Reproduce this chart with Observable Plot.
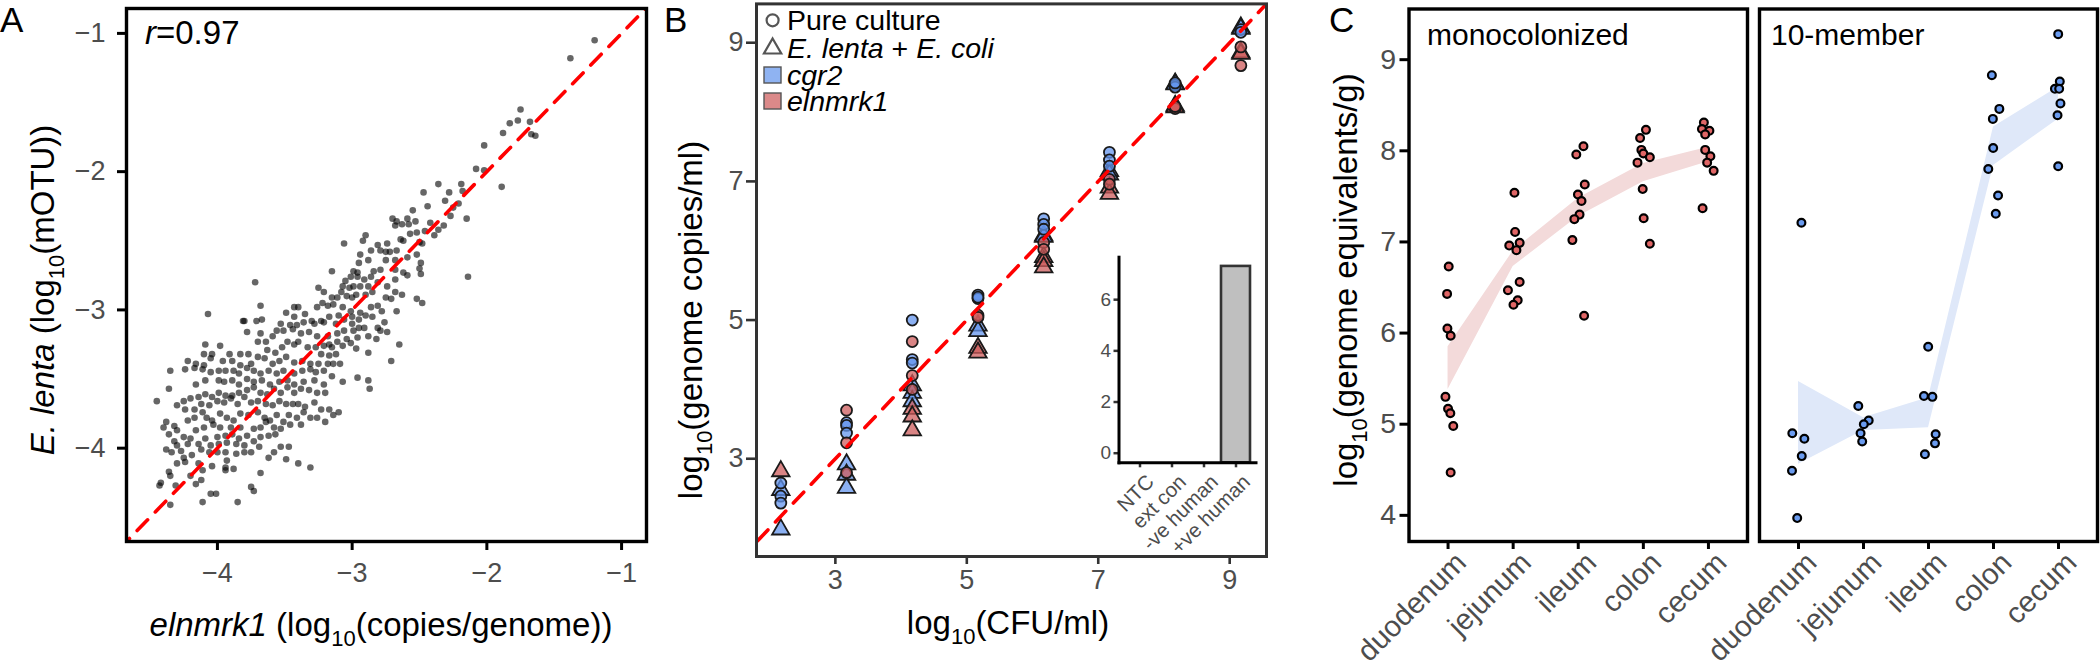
<!DOCTYPE html>
<html><head><meta charset="utf-8">
<script src="https://cdn.jsdelivr.net/npm/d3@7"></script>
<script src="https://cdn.jsdelivr.net/npm/@observablehq/plot@0.6"></script>
<style>
html,body{margin:0;padding:0;background:#fff;overflow:hidden;}
#root{position:relative;width:2100px;height:664px;overflow:hidden;font-family:"Liberation Sans",Arial,sans-serif;}
#root svg{position:absolute;max-width:none;background:transparent;overflow:visible;}
</style></head><body><div id="root"></div>
<script>
// ---------------- Panel A data ----------------
const tickA = [-4, -3, -2, -1];
const refLineA = [-5, 0];
const scatterA = [
[-3.80,-3.08],[-3.71,-3.08],[-3.53,-3.10],[-3.46,-3.11],[-3.41,-3.11],[-3.36,-3.09],[-3.28,-3.10],[-3.21,-3.09],[-3.12,-3.10],[-3.78,-3.16],[-3.68,-3.17],[-3.59,-3.19],[-3.56,-3.15],[-3.51,-3.15],[-3.44,-3.14],[-3.38,-3.17],[-3.32,-3.16],[-3.26,-3.19],[-3.18,-3.19],[-3.11,-3.17],[-3.06,-3.15],[-3.04,-3.21],[-3.11,-3.23],[-3.17,-3.25],
[-4.09,-3.25],[-3.98,-3.26],[-3.91,-3.32],[-4.10,-3.32],[-4.04,-3.32],[-3.83,-3.32],[-3.77,-3.32],[-3.70,-3.23],[-3.64,-3.23],[-3.63,-3.29],[-3.57,-3.31],[-3.52,-3.27],[-3.48,-3.23],[-3.43,-3.25],[-3.40,-3.23],[-3.33,-3.27],[-3.27,-3.27],[-3.21,-3.26],[-3.15,-3.27],[-3.07,-3.26],[-3.23,-3.32],[-3.17,-3.33],[-3.12,-3.32],[-4.22,-3.37],[-4.16,-3.39],[-4.10,-3.40],[-4.05,-3.35],[-3.96,-3.37],[-3.89,-3.37],[-3.83,-3.40],[-3.75,-3.39],[-3.70,-3.34],[-3.65,-3.35],[-3.59,-3.39],[-3.54,-3.37],[-3.49,-3.34],[-3.43,-3.38],[-3.37,-3.37],[-3.31,-3.39],[-3.25,-3.39],[-3.18,-3.39],[-3.14,-3.39],[-3.09,-3.39],
[-4.35,-3.44],[-4.24,-3.43],[-4.17,-3.42],[-4.11,-3.43],[-4.05,-3.45],[-3.99,-3.44],[-3.94,-3.44],[-3.88,-3.44],[-3.84,-3.46],[-3.78,-3.42],[-3.73,-3.44],[-3.68,-3.46],[-3.62,-3.44],[-3.56,-3.46],[-3.51,-3.44],[-3.43,-3.46],[-3.37,-3.44],[-3.31,-3.43],[-3.27,-3.45],[-3.21,-3.44],[-3.15,-3.48],[-3.07,-3.52],[-3.21,-3.54],[-3.28,-3.51],[-3.36,-3.52],[-3.43,-3.54],[-3.48,-3.51],[-3.54,-3.52],[-3.61,-3.54],[-3.67,-3.51],[-3.73,-3.52],[-3.78,-3.50],[-3.84,-3.54],[-3.89,-3.51],[-3.95,-3.52],[-3.99,-3.51],[-4.09,-3.51],[-4.16,-3.54],[-4.36,-3.57],
[-4.25,-3.66],[-4.20,-3.64],[-4.14,-3.63],[-4.09,-3.61],[-4.04,-3.63],[-3.99,-3.60],[-3.94,-3.62],[-3.89,-3.62],[-3.84,-3.60],[-3.78,-3.58],[-3.73,-3.56],[-3.68,-3.60],[-3.63,-3.61],[-3.58,-3.57],[-3.53,-3.60],[-3.48,-3.56],[-3.43,-3.60],[-3.38,-3.57],[-3.32,-3.58],[-3.26,-3.60],[-3.20,-3.60],[-4.45,-3.66],[-4.30,-3.69],[-4.24,-3.72],[-4.17,-3.72],[-4.12,-3.68],[-4.06,-3.69],[-4.00,-3.66],[-3.95,-3.67],[-3.90,-3.64],[-3.85,-3.68],[-3.80,-3.63],[-3.75,-3.67],[-3.70,-3.66],[-3.64,-3.68],[-3.59,-3.69],[-3.54,-3.66],[-3.49,-3.68],[-3.44,-3.68],[-3.40,-3.68],[-3.35,-3.70],[-3.28,-3.67],[-3.23,-3.72],[-3.17,-3.72],[-3.10,-3.74],
[-4.38,-3.81],[-4.40,-3.85],[-4.32,-3.84],[-4.22,-3.80],[-4.17,-3.78],[-4.11,-3.74],[-4.08,-3.78],[-4.04,-3.80],[-3.98,-3.75],[-3.93,-3.78],[-3.88,-3.80],[-3.83,-3.75],[-3.77,-3.76],[-3.70,-3.74],[-3.65,-3.78],[-3.61,-3.80],[-3.56,-3.76],[-3.51,-3.81],[-3.47,-3.76],[-3.41,-3.78],[-3.36,-3.74],[-3.31,-3.78],[-3.26,-3.78],[-3.20,-3.81],[-3.14,-3.76],[-3.83,-3.85],[-3.90,-3.85],[-3.98,-3.85],[-4.03,-3.83],[-4.10,-3.85],[-4.16,-3.87],[-3.73,-3.86],[-3.68,-3.85],[-3.64,-3.81],[-3.58,-3.85],[-3.53,-3.86],[-3.46,-3.83],[-3.38,-3.83],
[-4.36,-3.90],[-4.30,-3.87],[-4.25,-3.92],[-4.32,-3.95],[-4.30,-3.98],[-4.20,-3.93],[-4.09,-3.93],[-4.00,-3.92],[-3.94,-3.91],[-3.89,-3.90],[-3.84,-3.93],[-3.78,-3.91],[-3.73,-3.95],[-3.68,-3.92],[-3.62,-3.91],[-3.57,-3.90],[-3.80,-3.98],[-3.86,-3.97],[-3.93,-3.96],[-3.99,-3.97],[-4.05,-3.98],[-4.14,-3.97],[-4.22,-3.97],
[-4.38,-4.01],[-4.34,-4.03],[-4.27,-4.02],[-4.25,-4.07],[-4.19,-4.05],[-4.12,-4.01],[-4.06,-4.03],[-4.00,-4.03],[-3.94,-4.03],[-3.86,-4.04],[-3.80,-4.03],[-3.75,-4.03],[-3.69,-3.99],[-3.62,-4.07],[-3.58,-4.03],[-3.53,-3.99],[-3.47,-3.99],[-3.49,-4.08],[-4.30,-4.11],[-4.24,-4.10],[-4.14,-4.11],[-4.04,-4.13],[-3.94,-4.14],[-3.93,-4.09],[-3.40,-4.11],[-3.31,-4.14],
[-4.35,-4.20],[-4.36,-4.17],[-4.20,-4.20],[-4.11,-4.16],[-3.94,-4.16],[-3.88,-4.15],[-3.68,-4.18],[-4.42,-4.25],[-4.43,-4.27],[-4.31,-4.27],[-4.16,-4.26],[-4.12,-4.23],[-4.05,-4.33],[-4.01,-4.33],[-3.75,-4.28],[-3.73,-4.31],[-4.35,-4.41],[-4.11,-4.39],[-3.85,-4.39],
[-2.36,-2.09],[-2.19,-2.09],[-2.47,-2.15],[-2.28,-2.15],[-2.18,-2.14],[-2.31,-2.21],[-2.21,-2.23],[-2.44,-2.25],[-2.25,-2.26],[-2.55,-2.28],[-2.27,-2.32],[-2.15,-2.34],[-2.70,-2.34],[-2.67,-2.36],[-2.59,-2.34],[-2.53,-2.36],[-2.42,-2.37],[-2.68,-2.39],[-2.63,-2.38],[-2.58,-2.38],[-2.32,-2.39],[-2.36,-2.42],[-2.90,-2.46],[-2.92,-2.50],[-3.06,-2.52],[-2.81,-2.53],[-2.74,-2.52],[-2.64,-2.49],[-2.62,-2.50],[-2.57,-2.45],[-2.52,-2.44],[-2.46,-2.43],[-2.39,-2.46],[-2.50,-2.51],[-2.48,-2.52],[-2.79,-2.57],[-2.75,-2.58],[-2.72,-2.58],[-2.67,-2.57],[-2.94,-2.60],[-2.86,-2.57],[-2.95,-2.66],[-2.88,-2.64],[-2.75,-2.64],[-2.68,-2.64],[-2.59,-2.62],[-2.52,-2.60],[-2.49,-2.66],
[-3.15,-2.72],[-2.99,-2.72],[-2.96,-2.73],[-2.84,-2.72],[-2.79,-2.71],[-2.68,-2.71],[-2.62,-2.73],[-2.59,-2.75],[-2.50,-2.70],[-2.49,-2.74],[-2.14,-2.76],[-2.96,-2.76],[-2.91,-2.78],[-2.86,-2.76],[-3.01,-2.76],[-3.05,-2.79],[-3.07,-2.83],[-3.02,-2.84],[-2.99,-2.83],[-2.94,-2.83],[-2.88,-2.83],[-2.81,-2.80],[-2.74,-2.83],[-2.68,-2.78],[-3.08,-2.87],[-3.25,-2.84],[-3.21,-2.87],[-3.15,-2.91],[-3.11,-2.91],[-3.04,-2.90],[-3.00,-2.91],[-2.97,-2.89],[-2.90,-2.89],[-2.85,-2.87],[-2.75,-2.91],[-2.71,-2.92],[-2.68,-2.87],[-2.63,-2.89],[-2.52,-2.92],[-2.48,-2.95],
[-3.26,-2.98],[-3.22,-2.95],[-3.18,-2.97],[-3.14,-2.96],[-3.07,-2.98],[-3.01,-3.01],[-2.94,-3.02],[-2.86,-2.98],[-2.81,-2.97],[-2.78,-3.01],[-2.67,-3.01],[-3.43,-2.98],[-3.49,-3.02],[-3.43,-3.05],[-3.40,-2.98],[-3.35,-3.03],[-3.30,-3.08],[-3.23,-3.08],[-3.17,-3.05],[-3.10,-3.04],[-3.06,-3.07],[-3.00,-3.05],[-2.95,-3.07],[-2.90,-3.04],[-2.85,-3.05],[-2.76,-3.09],[-2.81,-3.13],[-2.79,-3.15],[-2.74,-3.16],[-2.88,-3.19],[-2.82,-3.21],[-2.65,-3.25],[-2.88,-3.31],[-2.71,-3.37],[-2.97,-3.28],[-2.99,-3.15],[-2.95,-3.13],[-2.91,-3.13],[-3.00,-3.10],[-2.96,-3.20],[-3.01,-3.24],
[-4.07,-3.03],[-3.72,-2.80],[-3.68,-2.97],[-3.81,-3.08],[-3.67,-3.07],[-2.96,-3.49],[-2.88,-3.51],[-2.87,-3.57],
[-2.08,-1.98],[-2.02,-1.81],[-2.02,-1.99],[-1.89,-2.11],[-1.88,-1.72],[-1.83,-1.65],[-1.77,-1.63],[-1.75,-1.55],[-1.67,-1.73],[-1.64,-1.74],[-1.68,-1.64],[-1.38,-1.18],[-1.20,-1.05]
];

// ---------------- Panel B data ----------------
const tickB = [3, 5, 7, 9];
const refLineB = [1, 10];
const cfu = [2.17, 3.17, 4.17, 5.17, 6.17, 7.17, 8.17, 9.17];   // log10(CFU/ml) dilution levels
// [dilution index, log10 genome copies/ml]
const coCgr2 = [[0,2.55],[0,1.98],[1,2.92],[1,2.77],[1,2.58],[2,4.06],[2,3.95],[2,3.83],[3,4.92],[3,4.84],[4,6.22],[4,6.20],[5,7.15],[5,7.10],[6,8.41],[6,8.40],[7,9.22],[7,9.20]];
const coElnmrk1 = [[0,2.82],[2,3.72],[2,3.61],[2,3.41],[3,4.60],[3,4.53],[4,5.91],[4,5.85],[4,5.76],[5,6.91],[5,6.82],[6,8.09],[6,8.07],[7,8.86],[7,8.84]];
const pureCgr2 = [[0,2.65],[0,2.46],[0,2.36],[1,3.52],[1,3.48],[1,3.37],[2,5.00],[2,4.43],[2,4.38],[3,5.36],[3,5.31],[3,5.33],[4,6.46],[4,6.38],[4,6.31],[5,7.42],[5,7.31],[5,7.22],[6,8.39],[6,8.36],[6,8.42],[7,9.19],[7,9.15]];
const pureElnmrk1 = [[1,3.70],[1,3.23],[1,2.80],[2,4.69],[2,4.20],[2,4.00],[3,5.07],[3,5.04],[4,6.12],[4,6.02],[5,7.03],[5,6.96],[6,8.05],[6,8.08],[7,8.94],[7,8.67]];
// inset
const insetLabels = ["NTC", "ext con", "-ve human", "+ve human"];
const insetValues = [0, 0, 0, 7.30];
const insetTicks = [0, 2, 4, 6];

// ---------------- Panel C data ----------------
const sites = ["duodenum", "jejunum", "ileum", "colon", "cecum"];
const tickC = [4, 5, 6, 7, 8, 9];
// [site index, horizontal jitter, log10 genome equivalents/g]
const monoPoints = [
[0,0.01,6.73],[0,-0.015,6.43],[0,-0.01,6.05],[0,0.04,5.97],[0,-0.04,5.30],[0,0,5.17],[0,0.035,5.12],[0,0.08,4.98],[0,0.04,4.47],
[1,0.02,7.54],[1,0.03,7.11],[1,0.10,6.99],[1,-0.06,6.96],[1,0.05,6.91],[1,0.10,6.56],[1,-0.08,6.47],[1,0.07,6.36],[1,0.005,6.31],
[2,0.08,8.05],[2,-0.03,7.96],[2,0.10,7.63],[2,-0.005,7.52],[2,0.05,7.45],[2,0.02,7.30],[2,-0.06,7.25],[2,-0.09,7.02],[2,0.09,6.19],
[3,0.04,8.23],[3,-0.05,8.14],[3,-0.03,8.01],[3,0,7.97],[3,0.10,7.93],[3,-0.09,7.87],[3,-0.01,7.58],[3,0.005,7.26],[3,0.10,6.98],
[4,-0.07,8.31],[4,-0.10,8.24],[4,0.015,8.22],[4,-0.05,8.18],[4,-0.05,8.01],[4,0.03,7.94],[4,-0.02,7.87],[4,0.08,7.78],[4,-0.09,7.37]
];
const tenPoints = [
[0,0.045,7.21],[0,-0.095,4.90],[0,0.09,4.84],[0,0.05,4.65],[0,-0.10,4.49],[0,-0.02,3.97],
[1,-0.08,5.20],[1,0.08,5.04],[1,0.005,5.00],[1,-0.045,4.90],[1,-0.02,4.81],
[2,-0.005,5.85],[2,-0.07,5.31],[2,0.06,5.30],[2,0.11,4.89],[2,0.10,4.79],[2,-0.055,4.67],
[3,-0.025,8.83],[3,0.09,8.46],[3,-0.01,8.35],[3,-0.005,8.03],[3,-0.08,7.80],[3,0.07,7.51],[3,0.035,7.31],
[4,-0.005,9.28],[4,0.02,8.76],[4,-0.055,8.68],[4,0.01,8.68],[4,0.03,8.52],[4,-0.015,8.39],[4,-0.005,7.83]
];
const monoLo = [5.38, 6.73, 7.28, 7.66, 7.88];
const monoHi = [5.85, 6.90, 7.48, 7.86, 8.04];
const tenLo = [4.56, 4.93, 4.96, 7.84, 8.35];
const tenHi = [5.47, 5.07, 5.29, 8.26, 8.70];

// ---------------- styles ----------------
const FONT = "Liberation Sans, Arial, Helvetica, sans-serif";
const GRAY = "#4d4d4d";
const BLUE = "#6495ed", RED = "#cd5c5c";
const RED_C = "#e06666", BLUE_C = "#6a9bef";
const intFmt = d3.format("d");

const root = document.getElementById("root");
function place(svg, left, top) { svg.style.left = left + "px"; svg.style.top = top + "px"; root.appendChild(svg); }

// ---------------- Panel A ----------------
const pA = Plot.plot({
  width: 660, height: 664, marginLeft: 126, marginRight: 14, marginTop: 8, marginBottom: 123,
  style: {fontFamily: FONT, background: "transparent"},
  x: {domain: [-4.675, -0.815]},
  y: {domain: [-4.675, -0.82]},
  marks: [
    Plot.dot(scatterA, {x: d => d[0], y: d => d[1], r: 3.3, fill: "black", fillOpacity: 0.6, stroke: "none"}),
    Plot.line(refLineA, {x: d => d, y: d => d, stroke: "#ff0000", strokeWidth: 3.6, strokeDasharray: "15,11", clip: true}),
    Plot.axisX(tickA, {tickFormat: intFmt, tickSize: 9, tickPadding: 12, fontSize: 27, fill: GRAY, stroke: "black", strokeWidth: 3, label: null}),
    Plot.axisY(tickA, {tickFormat: intFmt, tickSize: 9, tickPadding: 12, fontSize: 27, fill: GRAY, stroke: "black", strokeWidth: 3, label: null}),
    Plot.frame({stroke: "black", strokeWidth: 3.4})
  ]
});
place(pA, 0, 0);

// ---------------- Panel B ----------------
const bMark = (data, symbol, fill, r) => Plot.dot(data, {x: d => cfu[d[0]], y: d => d[1], symbol, r, fill, fillOpacity: 0.75, stroke: "#1a1a1a", strokeWidth: 1.8});
const pB = Plot.plot({
  width: 620, height: 664, marginLeft: 96, marginRight: 14, marginTop: 3.4, marginBottom: 108,
  style: {fontFamily: FONT, background: "transparent"},
  x: {domain: [1.80, 9.56]},
  y: {domain: [1.59, 9.56]},
  marks: [
    bMark(coCgr2, "triangle", BLUE, 6.5),
    bMark(coElnmrk1, "triangle", RED, 6.5),
    bMark(pureCgr2, "circle", BLUE, 5.5),
    bMark(pureElnmrk1, "circle", RED, 5.5),
    Plot.line(refLineB, {x: d => d, y: d => d, stroke: "#ff0000", strokeWidth: 3.6, strokeDasharray: "15,11", clip: true}),
    Plot.axisX(tickB, {tickFormat: intFmt, tickSize: 8, tickPadding: 5, fontSize: 27, fill: GRAY, stroke: "#333", strokeWidth: 2.6, label: null}),
    Plot.axisY(tickB, {tickFormat: intFmt, tickSize: 10, tickPadding: 3, fontSize: 27, fill: GRAY, stroke: "#333", strokeWidth: 2.6, label: null}),
    Plot.frame({stroke: "#333", strokeWidth: 3})
  ]
});
place(pB, 660, 0);

// inset
const insetData = insetLabels.map((l, i) => ({label: l, value: insetValues[i]}));
const pI = Plot.plot({
  width: 200, height: 340, marginLeft: 48.5, marginRight: 14.5, marginTop: 16.7, marginBottom: 117.7,
  style: {fontFamily: FONT, background: "transparent"},
  x: {type: "band", domain: insetLabels, paddingInner: 0.1, paddingOuter: 0.15},
  y: {domain: [-0.375, 7.66]},
  marks: [
    Plot.barY(insetData, {filter: d => d.value > 0, x: "label", y1: -0.375, y2: "value", fill: "#bfbfbf", stroke: "#333", strokeWidth: 2.6}),
    Plot.axisY(insetTicks, {tickFormat: intFmt, tickSize: 5, tickPadding: 3, fontSize: 19, fill: GRAY, stroke: "#333", strokeWidth: 2.5, label: null}),
    Plot.axisX({tickFormat: () => "", tickSize: 5, stroke: "#333", strokeWidth: 2.5, label: null}),
    Plot.text(insetLabels, {x: d => d, text: d => d, frameAnchor: "bottom", rotate: -45, textAnchor: "end", lineAnchor: "top", dx: 5, dy: 10, fontSize: 20.5, fill: GRAY}),
    Plot.frame({anchor: "left", stroke: "black", strokeWidth: 3}),
    Plot.frame({anchor: "bottom", stroke: "black", strokeWidth: 3})
  ]
});
place(pI, 1070, 240);

// ---------------- Panel C ----------------
function facet(points, lo, hi, fill, ribbon, withY, w, ml, mr) {
  return Plot.plot({
    width: w, height: 664, marginLeft: ml, marginRight: mr, marginTop: 8.5, marginBottom: 123,
    style: {fontFamily: FONT, background: "transparent"},
    x: {domain: [-0.6, 4.6]},
    y: {domain: [3.713, 9.556]},
    marks: [
      Plot.areaY(sites, {x: (d, i) => i, y1: (d, i) => lo[i], y2: (d, i) => hi[i], fill: ribbon}),
      Plot.dot(points, {x: d => d[0] + d[1], y: d => d[2], r: 3.9, fill, stroke: "black", strokeWidth: 2.2}),
      Plot.axisX([0, 1, 2, 3, 4], {tickFormat: () => "", tickSize: 8, stroke: "black", strokeWidth: 3, label: null}),
      Plot.text(sites, {x: (d, i) => i, text: d => d, frameAnchor: "bottom", rotate: -45, textAnchor: "end", lineAnchor: "top", dx: 5, dy: 8, fontSize: 29.5, fill: GRAY}),
      withY ? Plot.axisY(tickC, {tickFormat: intFmt, tickSize: 9, tickPadding: 4, fontSize: 28.5, fill: GRAY, stroke: "black", strokeWidth: 3, label: null}) : Plot.axisY({ticks: [], label: null}),
      Plot.frame({stroke: "black", strokeWidth: 3.4})
    ]
  });
}
place(facet(monoPoints, monoLo, monoHi, RED_C, "#f3dada", true, 460, 108.5, 13), 1300, 0);
place(facet(tenPoints, tenLo, tenHi, BLUE_C, "#dfe8f9", false, 410, 69, 3), 1690, 0);

// ---------------- text overlay (titles, labels, legend) ----------------
const ov = d3.create("svg").attr("width", 2100).attr("height", 664).attr("font-family", FONT)
  .style("left", "0px").style("top", "0px").style("pointer-events", "none");
function rich(x, y, rot, parts, size, anchor = "middle") {
  const t = ov.append("text").attr("transform", `translate(${x},${y}) rotate(${rot})`)
    .attr("text-anchor", anchor).attr("font-size", size).attr("fill", "black");
  let shifted = false;
  for (const p of parts) {
    const s = t.append("tspan").text(p.t);
    if (p.i) s.attr("font-style", "italic");
    if (p.sub) { s.attr("font-size", Math.round(size * 0.66)).attr("dy", size * 0.3); shifted = true; }
    else if (shifted) { s.attr("dy", -size * 0.3); shifted = false; }
  }
  return t;
}
rich(0, 32, 0, [{t: "A"}], 35, "start");
rich(664, 32, 0, [{t: "B"}], 35, "start");
rich(1329, 32, 0, [{t: "C"}], 35, "start");
rich(145, 44, 0, [{t: "r", i: true}, {t: "=0.97"}], 33, "start");
rich(381, 636, 0, [{t: "elnmrk1", i: true}, {t: " (log"}, {t: "10", sub: true}, {t: "(copies/genome))"}], 33);
rich(54, 290, -90, [{t: "E. lenta", i: true}, {t: " (log"}, {t: "10", sub: true}, {t: "(mOTU))"}], 33);
rich(1008, 634, 0, [{t: "log"}, {t: "10", sub: true}, {t: "(CFU/ml)"}], 33);
rich(702, 320, -90, [{t: "log"}, {t: "10", sub: true}, {t: "(genome copies/ml)"}], 33);
rich(1357, 280, -90, [{t: "log"}, {t: "10", sub: true}, {t: "(genome equivalents/g)"}], 33);
rich(1427, 45, 0, [{t: "monocolonized"}], 30, "start");
rich(1771, 45, 0, [{t: "10-member"}], 30, "start");

// legend of panel B
const lg = ov.append("g");
lg.append("circle").attr("cx", 772.6).attr("cy", 20.3).attr("r", 6).attr("fill", "none").attr("stroke", "#555").attr("stroke-width", 2.2);
lg.append("path").attr("d", d3.symbol(d3.symbolTriangle, 130)()).attr("transform", "translate(772.6,48.5)")
  .attr("fill", "none").attr("stroke", "#555").attr("stroke-width", 2.2);
lg.append("rect").attr("x", 764).attr("y", 67).attr("width", 17).attr("height", 16)
  .attr("fill", BLUE).attr("fill-opacity", 0.72).attr("stroke", "#555").attr("stroke-width", 1.4);
lg.append("rect").attr("x", 764).attr("y", 93).attr("width", 17).attr("height", 16)
  .attr("fill", RED).attr("fill-opacity", 0.72).attr("stroke", "#555").attr("stroke-width", 1.4);
rich(787, 30, 0, [{t: "Pure culture"}], 28.5, "start");
rich(787, 57.5, 0, [{t: "E. lenta", i: true}, {t: " + "}, {t: "E. coli", i: true}], 28.5, "start");
rich(787, 84.5, 0, [{t: "cgr2", i: true}], 28.5, "start");
rich(787, 111, 0, [{t: "elnmrk1", i: true}], 28.5, "start");

root.appendChild(ov.node());
</script>
</body></html>
